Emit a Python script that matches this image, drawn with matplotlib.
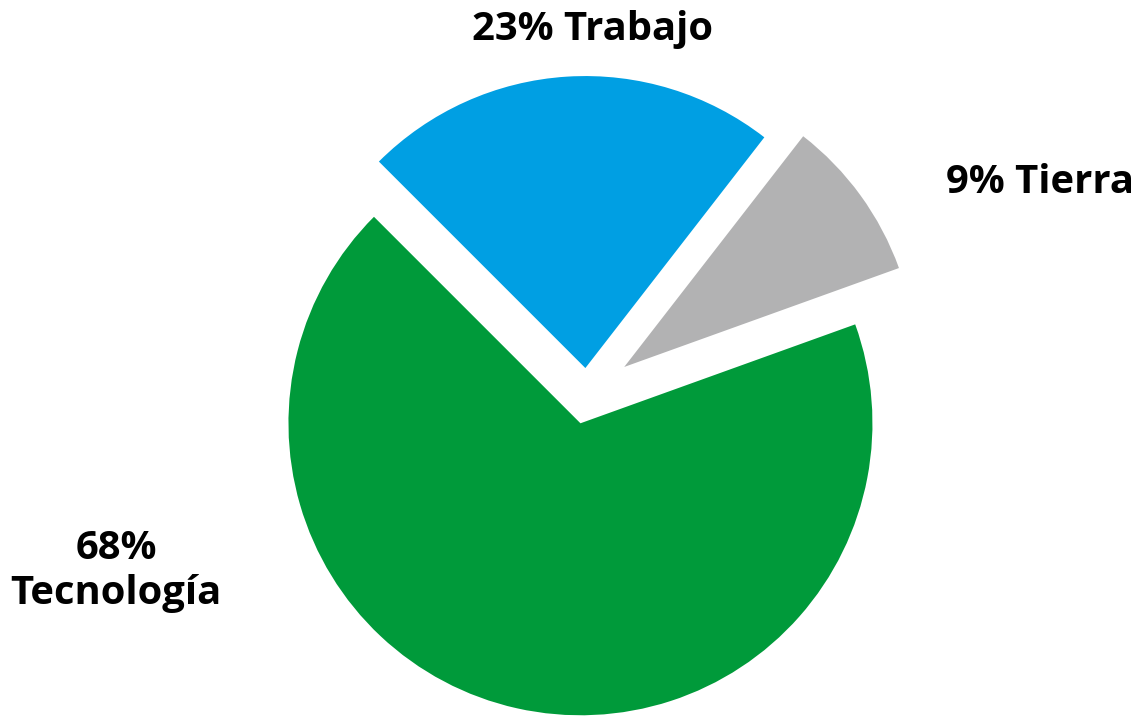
import matplotlib
matplotlib.use("Agg")
from matplotlib import pyplot as plt

# datos del gráfico
labels = ["9% Tierra", "23% Trabajo", "68%\nTecnología"]
values = [9, 23, 68]
colors = ["#b2b2b3", "#009fe3", "#009a3a"]

W, H = 1137, 718
fig = plt.figure(figsize=(W / 100, H / 100), dpi=100)
ax = fig.add_axes([0, 0, 1, 1])

# explode va en unidades de datos (píxeles aquí)
ax.pie(values, colors=colors, explode=[46, 26, 30], startangle=19.8,
       counterclock=True, center=(587, -394), radius=292,
       wedgeprops=dict(linewidth=0))

# pie() cambia los límites, se fijan después
ax.set_xlim(0, W)
ax.set_ylim(-H, 0)
ax.set_aspect("equal")
ax.axis("off")

font = dict(family=["Open Sans", "DejaVu Sans"], fontweight="bold", fontsize=28.8, color="black")
ax.text(592, -40, labels[1], ha="center", va="baseline", **font)
ax.text(1040, -193, labels[0], ha="center", va="baseline", **font)
ax.text(116, -571, labels[2], ha="center", va="center", linespacing=1.22, **font)

fig.savefig("out.png", dpi=100)
